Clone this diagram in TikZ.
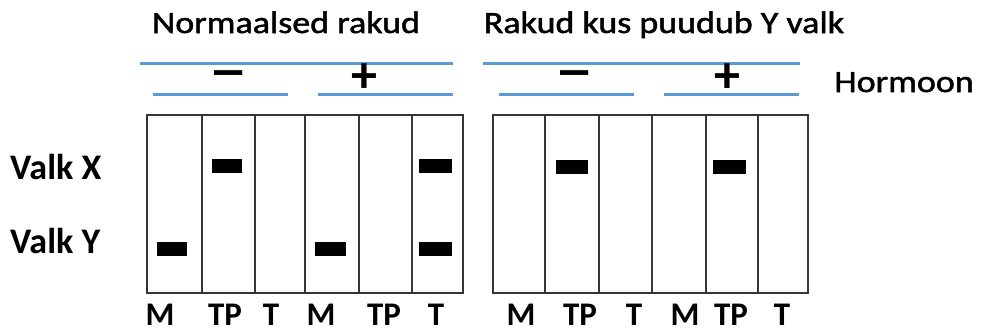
\documentclass[tikz,border=0pt]{standalone}
\usepackage{fontspec}
\setmainfont{Carlito}
\newfontfamily\hdrfont[FakeStretch=1.16,FakeBold=1.6]{Carlito}
\newfontfamily\lblfont{Carlito Bold}
\definecolor{hblue}{RGB}{91,155,213}
\definecolor{frame}{RGB}{55,55,55}
\tikzset{
  hdr/.style={anchor=base, inner sep=0pt, font=\hdrfont\fontsize{31}{31}\selectfont},
  sign/.style={anchor=center, inner sep=0pt, font=\bfseries\fontsize{52}{52}\selectfont},
  lbl/.style={anchor=base, inner sep=0pt, font=\lblfont\fontsize{33}{33}\selectfont},
  rowlbl/.style={anchor=base west, inner sep=0pt, font=\lblfont\fontsize{36}{36}\selectfont},
  bar/.style={line width=3pt, hblue},
  lanebox/.style={draw=frame, line width=2.4pt},
  band/.style={fill=black, draw=none}
}
\begin{document}
\begin{tikzpicture}[x=1pt,y=-1pt]
\useasboundingbox (0,0) rectangle (982,333);

% headings
\node[hdr] (h1) at (286,33) {Normaalsed rakud};
\node[hdr] (h2) at (664,33) {Rakud kus puudub Y valk};
\node[hdr] (hor) at (904,92) {Hormoon};

% hormone bars
\draw[bar] (140,63) -- (453,63);
\draw[bar] (153,94) -- (288,94);
\draw[bar] (318,94) -- (453,94);
\draw[bar] (483,63) -- (800,63);
\draw[bar] (499,94) -- (634,94);
\draw[bar] (664,94) -- (799,94);
\node[sign] (m1) at (229,80.5) {\scalebox{1.4}[1]{−}};
\node[sign] (p1) at (364,78) {+};
\node[sign] (m2) at (575,80.5) {\scalebox{1.4}[1]{−}};
\node[sign] (p2) at (727,78) {+};

% row labels
\node[rowlbl] (vx) at (10,179) {Valk X};
\node[rowlbl] (vy) at (10,253) {Valk Y};

% gel lanes, left panel
\foreach \a/\b in {147/202,202/255,255/305,305/359,359/412,412/463}
  \draw[lanebox] (\a,115) rectangle (\b,293);
% gel lanes, right panel
\foreach \a/\b in {493/545,545/599,599/652,652/706,706/758,758/808}
  \draw[lanebox] (\a,115) rectangle (\b,293);

% bands
\fill[band] (157,242) rectangle (187,256);
\fill[band] (212,159) rectangle (242,173);
\fill[band] (315,242) rectangle (346,256);
\fill[band] (419,159) rectangle (452,173);
\fill[band] (419,242) rectangle (452,256);
\fill[band] (556,160) rectangle (588,174);
\fill[band] (713,160) rectangle (746,174);

% lane labels
\foreach \x/\t [count=\i] in {160/M,225/TP,271/T,321/M,384/TP,436/T,521/M,580/TP,634/T,685/M,731/TP,782/T}
  \node[lbl] (lab\i) at (\x,325) {\t};
\end{tikzpicture}
\end{document}
